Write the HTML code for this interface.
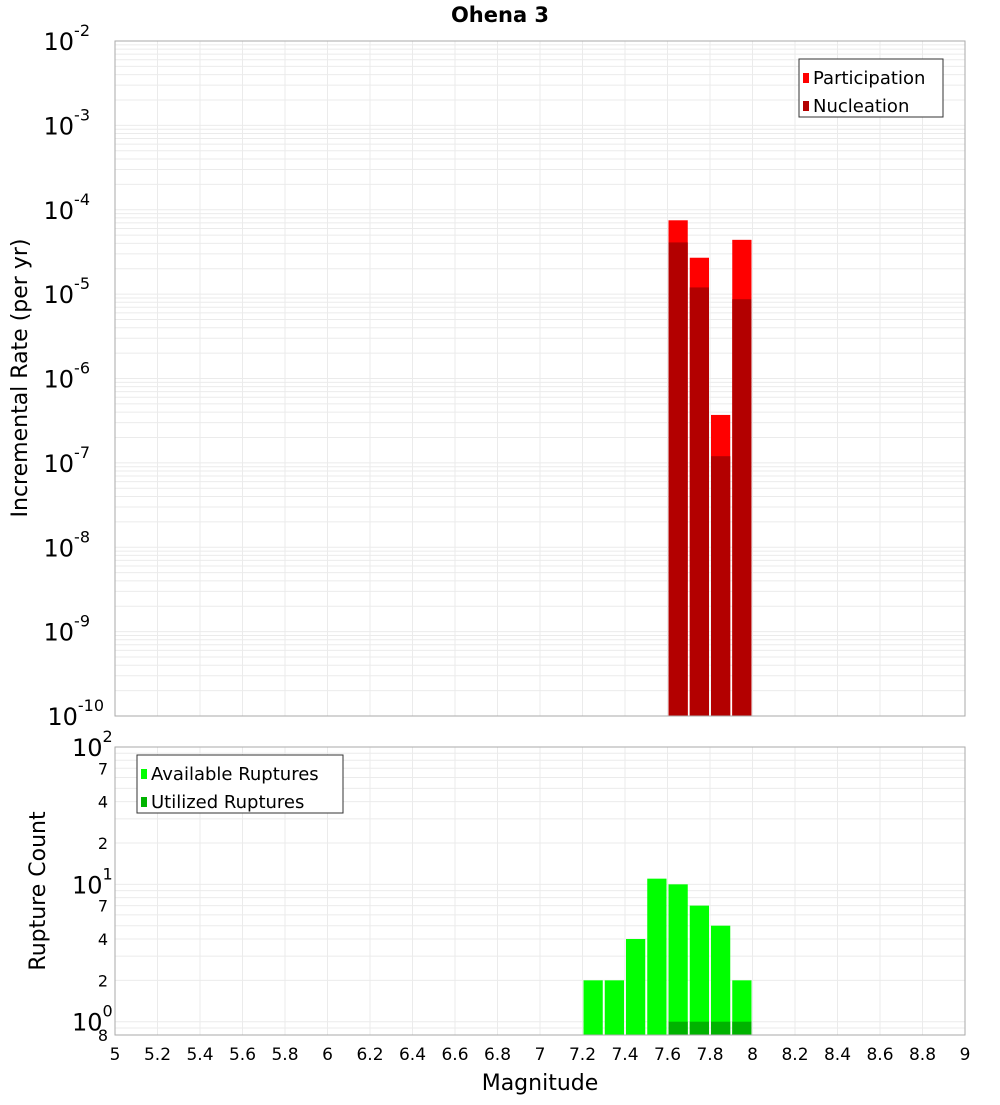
<!DOCTYPE html>
<html><head><meta charset="utf-8"><style>
body{margin:0;background:#fff}
text{font-family:"DejaVu Sans","Liberation Sans",sans-serif}
</style></head><body>
<svg id="c" width="1000" height="1100" xmlns="http://www.w3.org/2000/svg"></svg>
<script>
const binCenters=[7.65,7.75,7.85,7.95];
const participation=[7.5e-5,2.7e-5,3.7e-7,4.4e-5];
const nucleation=[4.1e-5,1.2e-5,1.2e-7,8.7e-6];
const countBins=[7.25,7.35,7.45,7.55,7.65,7.75,7.85,7.95];
const available=[2,2,4,11,10,7,5,2];
const utilizedBins=[7.65,7.75,7.85,7.95];
const utilized=[1,1,1,1];
const xTicks=[5,5.2,5.4,5.6,5.8,6,6.2,6.4,6.6,6.8,7,7.2,7.4,7.6,7.8,8,8.2,8.4,8.6,8.8,9];
const topDecades=[-10,-9,-8,-7,-6,-5,-4,-3,-2];
const botTickVals=[0.8,2,4,7,20,40,70];
const botDecades=[0,1,2];

const svg=document.getElementById('c');
const NS='http://www.w3.org/2000/svg';
function el(t,a,p){const e=document.createElementNS(NS,t);for(const k in a)e.setAttribute(k,a[k]);(p||svg).appendChild(e);return e;}
const L=115,R=965;
const x=v=>L+(v-5)/4*(R-L);
const T0=41,T1=716;
const yT=v=>T0+(-2-Math.log10(v))/8*(T1-T0);
const B0=747,B1=1035,bMin=Math.log10(0.8);
const yB=v=>B1-(Math.log10(v)-bMin)/(2-bMin)*(B1-B0);

// title
let t=el('text',{x:500,y:22,'text-anchor':'middle','font-size':21,'font-weight':'bold'});t.textContent='Ohena 3';


// grids
function grid(y0,y1,yf,lo,hi,name){
 const g=el('g',{});
 for(let d=lo;d<hi;d++)for(let m=1;m<10;m++){const v=m*Math.pow(10,d);const yy=yf(v);if(yy<y0-0.5||yy>y1+0.5)continue;
  el('line',{x1:L,x2:R,y1:yy,y2:yy,stroke:'#ebebeb','stroke-width':1},g);}
 xTicks.forEach(v=>el('line',{x1:x(v),x2:x(v),y1:y0,y2:y1,stroke:'#ebebeb','stroke-width':1},g));
}
grid(T0,T1,yT,-10,-2,'top-grid');
grid(B0,B1,yB,-1,2,'bottom-grid');

// top bars
function bars(centers,vals,yf,base,color,name){
 const g=el('g',{});
 centers.forEach((c,i)=>{const x0=x(c-0.05)+1,x1=x(c+0.05)-1,yy=yf(vals[i]);
  const r=el('rect',{x:x0,y:yy,width:x1-x0,height:base-yy,fill:color},g);
  });
}
bars(binCenters,participation,yT,T1,'#ff0000','participation');
bars(binCenters,nucleation,yT,T1,'#b30000','nucleation');
bars(countBins,available,yB,B1,'#00ff00','available-ruptures');
bars(utilizedBins,utilized,yB,B1,'#00b300','utilized-ruptures');

// frames
el('rect',{x:L,y:T0,width:R-L,height:T1-T0,fill:'none',stroke:'#aaa'});
el('rect',{x:L,y:B0,width:R-L,height:B1-B0,fill:'none',stroke:'#aaa'});

// top y labels
topDecades.forEach(d=>{const yy=yT(Math.pow(10,d));
 const tx=el('text',{x:108,y:yy+9,'text-anchor':'end','font-size':24});
 
 tx.textContent='10';const s=el('tspan',{dy:-14,'font-size':16},tx);s.textContent=String(d);
 tx.setAttribute('x',d===-10?104:(d<0?90:96));
});
// bottom y labels
botDecades.forEach(d=>{const yy=yB(Math.pow(10,d));
 const tx=el('text',{x:72,y:yy+9,'font-size':24});
 
 tx.textContent='10';const s=el('tspan',{dy:-14,'font-size':16},tx);s.textContent=String(d);
});
botTickVals.forEach(v=>{const yy=yB(v);
 const tx=el('text',{x:108,y:yy+6,'text-anchor':'end','font-size':16});
 
 tx.textContent=v<1?'8':String(v%10===0?v/10:v);
});
// x labels
xTicks.forEach(v=>{const tx=el('text',{x:x(v),y:1060,'text-anchor':'middle','font-size':17});
 tx.textContent=String(v);});
t=el('text',{x:540,y:1090,'text-anchor':'middle','font-size':22});t.textContent='Magnitude';

t=el('text',{x:0,y:0,'text-anchor':'middle','font-size':22,transform:'translate(27,378) rotate(-90)'});t.textContent='Incremental Rate (per yr)';

t=el('text',{x:0,y:0,'text-anchor':'middle','font-size':22,transform:'translate(45,891) rotate(-90)'});t.textContent='Rupture Count';


// legends
function legend(x0,y0,w,items,name){
 const g=el('g',{});
 el('rect',{x:x0,y:y0,width:w,height:58,fill:'#fff',stroke:'#333'},g);
 items.forEach((it,i)=>{const yy=y0+19+i*28;
  el('rect',{x:x0+4,y:yy-5,width:6,height:10,fill:it[1]},g);
  const tx=el('text',{x:x0+14,y:yy+6,'font-size':18},g);tx.textContent=it[0];
  });
}
legend(799,59,144,[['Participation','#ff0000'],['Nucleation','#b30000']],'top-legend');
legend(137,755,206,[['Available Ruptures','#00ff00'],['Utilized Ruptures','#00b300']],'bottom-legend');
</script>
</body></html>
